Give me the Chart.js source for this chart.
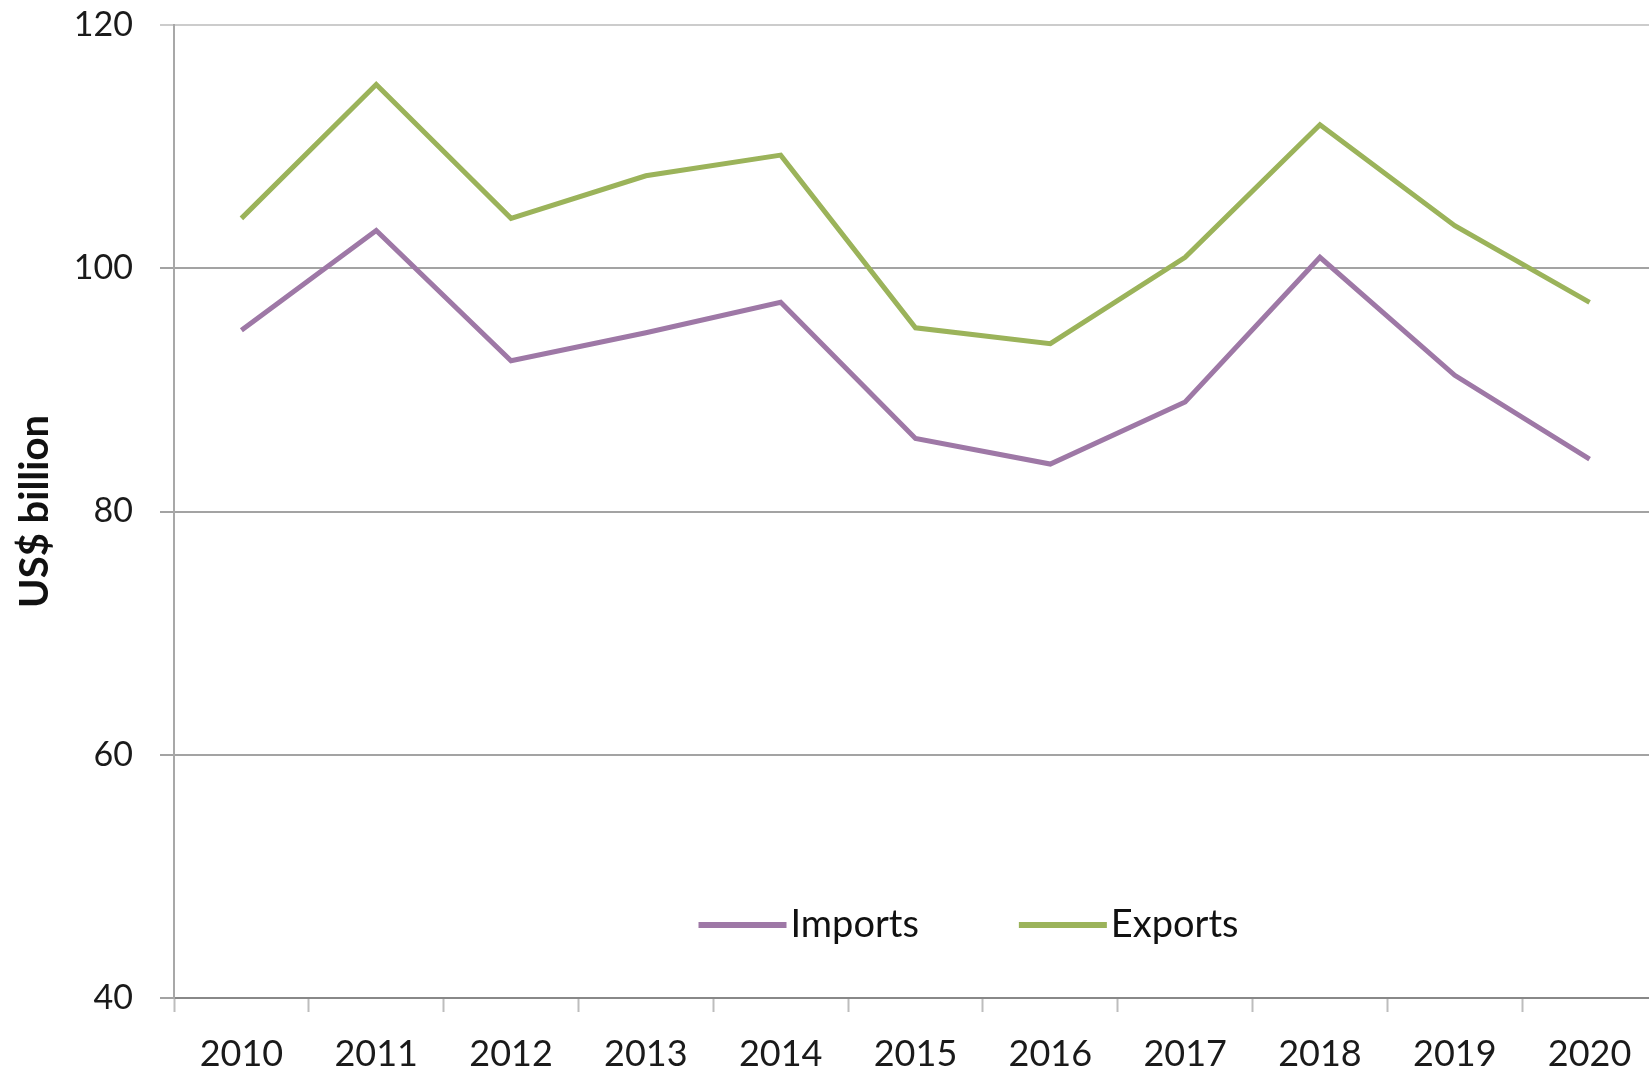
<!DOCTYPE html>
<html>
<head>
<meta charset="utf-8">
<script src="https://cdn.jsdelivr.net/npm/chart.js@4.4.1/dist/chart.umd.min.js"></script>
<style>
  html, body { margin: 0; padding: 0; background: #fff; overflow: hidden; }
  #wrap { position: relative; width: 1657px; height: 1074px; }
</style>
</head>
<body>
<div id="wrap"><canvas id="myChart"></canvas></div>
<script>
const years = ['2010', '2011', '2012', '2013', '2014', '2015', '2016', '2017', '2018', '2019', '2020'];
const imports = [94.9, 103.1, 92.4, 94.7, 97.2, 86.0, 83.9, 89.0, 100.9, 91.2, 84.3];
const exports = [104.1, 115.1, 104.1, 107.6, 109.3, 95.1, 93.8, 100.9, 111.8, 103.5, 97.2];
const yTicks = [40, 60, 80, 100, 120];

const FONT = 'Lato, "Open Sans", sans-serif';

// legend drawn inside the plot, near the bottom, like the original
const innerLegend = {
  id: 'innerLegend',
  afterDraw(chart) {
    const c = chart.ctx;
    const area = chart.chartArea;
    const lineLen = 88, gapText = 4, gapItem = 100;
    c.save();
    c.font = '38px ' + FONT;
    c.textBaseline = 'middle';
    const items = chart.data.datasets.map(ds => ({
      label: ds.label, color: ds.borderColor, w: c.measureText(ds.label).width
    }));
    let total = 0;
    items.forEach((it, i) => { total += lineLen + gapText + it.w + (i ? gapItem : 0); });
    let x = (area.left + area.right) / 2 + 53 - total / 2;
    const y = 925;
    items.forEach(it => {
      c.strokeStyle = it.color;
      c.lineWidth = 6;
      c.beginPath();
      c.moveTo(x, y);
      c.lineTo(x + lineLen, y);
      c.stroke();
      c.fillStyle = '#111';
      c.fillText(it.label, x + lineLen + gapText, y);
      x += lineLen + gapText + it.w + gapItem;
    });
    c.restore();
  }
};

const ctx = document.getElementById('myChart');

new Chart(ctx, {
  type: 'line',
  data: {
    labels: years,
    datasets: [{
      label: 'Imports',
      data: imports,
      borderColor: '#9e78a6',
      borderWidth: 5,
      pointRadius: 0,
      tension: 0
    }, {
      label: 'Exports',
      data: exports,
      borderColor: '#9bb35a',
      borderWidth: 5,
      pointRadius: 0,
      tension: 0
    }]
  },
  options: {
    responsive: true,
    maintainAspectRatio: false,
    animation: false,
    layout: { padding: 0 },
    plugins: {
      legend: { display: false },
      tooltip: { enabled: false }
    },
    scales: {
      x: {
        offset: true,
        grid: {
          offset: true,
          drawOnChartArea: false,
          drawTicks: true,
          tickLength: 14,
          tickColor: '#bdbdbd',
          tickWidth: 2
        },
        border: { color: '#888888', width: 2 },
        ticks: {
          color: '#1a1a1a',
          padding: 21,
          maxRotation: 0,
          autoSkip: false,
          font: { family: FONT, size: 36 }
        },
        afterFit(scale) { scale.height = 76; }
      },
      y: {
        min: 40,
        max: 120,
        afterBuildTicks(scale) { scale.ticks = yTicks.map(v => ({ value: v })); },
        grid: {
          color: ctx2 => ctx2.tick && ctx2.tick.value === 120 ? '#cccccc' : '#a3a3a3',
          lineWidth: 2,
          drawTicks: true,
          tickLength: 14
        },
        border: { color: '#a8a8a8', width: 2 },
        ticks: {
          color: '#1a1a1a',
          padding: 27,
          font: { family: FONT, size: 34 }
        },
        title: {
          display: true,
          text: 'US$ billion',
          color: '#111',
          font: { family: FONT, size: 40, weight: 'bold' },
          padding: { top: 11, bottom: 0 }
        },
        afterFit(scale) {
          scale.width = 174;
          scale.paddingTop = 25;
          scale.paddingBottom = 0;
        }
      }
    }
  },
  plugins: [innerLegend]
});
</script>
</body>
</html>
